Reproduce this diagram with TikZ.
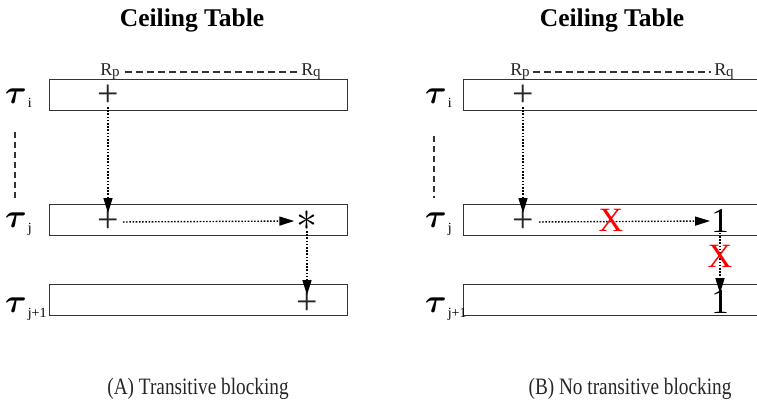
\documentclass[tikz,border=0pt]{standalone}
\usepackage{amsmath}
\usepackage{graphicx}
\usepackage{fontspec}
\setmainfont{Liberation Serif}
\newfontfamily\capfont[FakeStretch=0.82]{Liberation Serif}
\usetikzlibrary{arrows.meta}
\newcommand{\tausym}[1]{{\fontsize{10}{12}\selectfont\scalebox{3.3}{$\boldsymbol{\tau}$}}\kern1pt\raisebox{-5pt}{\fontsize{14}{14}\selectfont #1}}
\newcommand{\resname}[1]{R\kern-0.3pt\raisebox{-1.5pt}{\fontsize{15}{15}\selectfont #1}}
\begin{document}
\begin{tikzpicture}[x=1pt,y=-1pt,
  rowbox/.style={draw=black!80, line width=1.4pt, minimum height=31pt, inner sep=0pt, anchor=north west},
  titletext/.style={font=\fontsize{25.5}{25.5}\selectfont\bfseries, anchor=base, inner sep=0pt},
  captext/.style={font=\capfont\fontsize{23.5}{23.5}\selectfont, anchor=base, inner sep=0pt, text=black!85},
  restext/.style={font=\fontsize{18}{18}\selectfont, anchor=base, inner sep=0pt, text=black!85},
  tautext/.style={anchor=base west, inner sep=0pt},
  marktext/.style={font=\fontsize{38}{38}\selectfont, inner sep=0pt, text=black!85},
  onetext/.style={font=\fontsize{35}{35}\selectfont, inner sep=0pt},
  xtext/.style={font=\fontsize{34}{34}\selectfont, inner sep=0pt, text=red},
  dashconn/.style={draw=black!80, line width=1.1pt, dash pattern=on 7pt off 4pt},
  dotarrow/.style={draw=black, line width=1.4pt, dash pattern=on 1.6pt off 1.6pt,
     -{Triangle[length=15pt,width=9pt]}},
]
\useasboundingbox (0,0) rectangle (757,401);
\clip (0,0) rectangle (757,401);

% ---------------- Panel A ----------------
\node[titletext] (titleA) at (192,27) {Ceiling Table};
\node[restext] (RAp) at (110,75.5) {\resname{p}};
\node[restext] (RAq) at (311,75.5) {\resname{q}};
\draw[dashconn] ([xshift=5pt]RAp.east) -- ([xshift=-4pt]RAq.west);

\node[rowbox, minimum width=298pt] (boxAi) at (49,79) {};
\node[rowbox, minimum width=298pt] (boxAj) at (49,204) {};
\node[rowbox, minimum width=298pt] (boxAk) at (49,284) {};

\node[tautext] (tauAi) at (5,103) {\tausym{i}};
\node[tautext] (tauAj) at (5,227) {\tausym{j}};
\node[tautext] (tauAk) at (5,312) {\tausym{j+1}};
\coordinate (dA1) at (15,132);
\coordinate (dA2) at (15,198);
\draw[dashconn, dash pattern=on 6pt off 4pt] (dA1) -- (dA2);

\node[marktext] (pAi) at (108,96) {+};
\node[marktext] (pAj) at (108,222) {+};
\node[marktext, text=black, font=\fontsize{10}{12}\selectfont] (sAj) at (307,221) {\scalebox{4.2}{$\ast$}};
\node[marktext] (pAk) at (307,304) {+};

\draw[dotarrow, shorten >=-2pt] (pAi.south) -- (pAj.north);
\draw[dotarrow, shorten <=4pt, shorten >=2pt] (pAj.east) -- (sAj.west);
\draw[dotarrow, shorten >=-2pt] (sAj.south) -- (pAk.north);

\node[captext] (capA) at (198,394) {(A) Transitive blocking};

% ---------------- Panel B ----------------
\node[titletext] (titleB) at (612,27) {Ceiling Table};
\node[restext] (RBp) at (520,75.5) {\resname{p}};
\node[restext] (RBq) at (724,75.5) {\resname{q}};
\draw[dashconn] ([xshift=3pt]RBp.east) -- ([xshift=-3pt]RBq.west);

\node[rowbox, minimum width=320pt] (boxBi) at (463,79) {};
\node[rowbox, minimum width=320pt] (boxBj) at (463,204) {};
\node[rowbox, minimum width=320pt] (boxBk) at (463,284) {};

\node[tautext] (tauBi) at (425,103) {\tausym{i}};
\node[tautext] (tauBj) at (425,227) {\tausym{j}};
\node[tautext] (tauBk) at (425,312) {\tausym{j+1}};
\coordinate (dB1) at (434,136);
\coordinate (dB2) at (434,198);
\draw[dashconn, dash pattern=on 6pt off 4pt] (dB1) -- (dB2);

\node[marktext] (pBi) at (523,96) {+};
\node[marktext] (pBj) at (523,222) {+};
\node[onetext] (oBj) at (720,221) {1};
\node[onetext] (oBk) at (720,302) {1};

\draw[dotarrow, shorten >=-2pt] (pBi.south) -- (pBj.north);
\draw[dotarrow, shorten <=5pt, shorten >=1pt] (pBj.east) -- (oBj.west);
\draw[dotarrow, shorten >=-3pt] (oBj.south) -- (oBk.north);

\node[xtext] (xBh) at (611,220) {X};
\node[xtext] (xBv) at (720,256) {X};

\node[captext] (capB) at (630,394) {(B) No transitive blocking};
\end{tikzpicture}
\end{document}
